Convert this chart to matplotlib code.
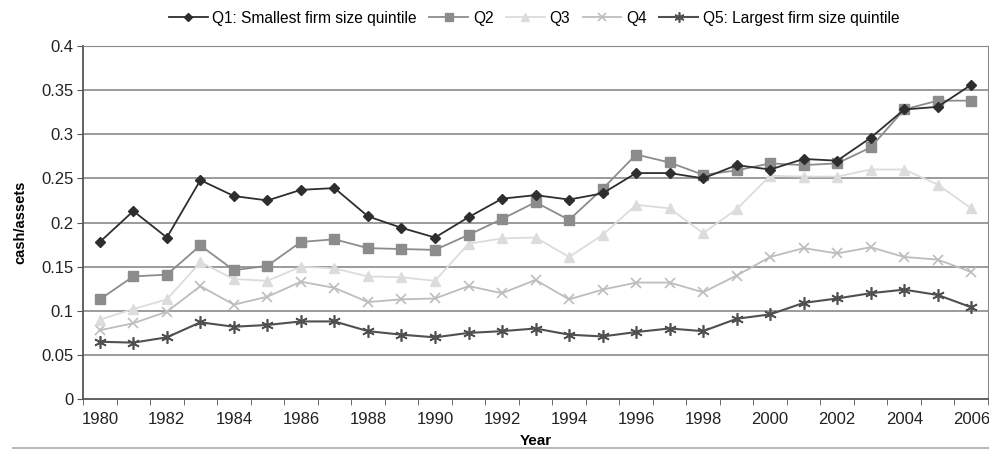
import matplotlib.pyplot as plt
import matplotlib.lines as mlines
import numpy as np

plt.rcParams['font.family'] = ['Liberation Sans', 'DejaVu Sans']

# Data (cash/assets by firm size quintile)
years = list(range(1980, 2007))
q1 = [0.178, 0.213, 0.183, 0.248, 0.230, 0.225, 0.237, 0.239, 0.207, 0.194, 0.183, 0.206, 0.227, 0.231,
      0.226, 0.233, 0.256, 0.256, 0.250, 0.265, 0.260, 0.272, 0.270, 0.296, 0.328, 0.331, 0.356]
q2 = [0.113, 0.139, 0.141, 0.174, 0.146, 0.151, 0.178, 0.181, 0.171, 0.170, 0.169, 0.186, 0.204, 0.223,
      0.203, 0.238, 0.277, 0.268, 0.254, 0.259, 0.267, 0.265, 0.267, 0.285, 0.328, 0.338, 0.338]
q3 = [0.090, 0.102, 0.113, 0.155, 0.136, 0.134, 0.150, 0.148, 0.139, 0.138, 0.134, 0.176, 0.182, 0.183,
      0.161, 0.186, 0.220, 0.216, 0.188, 0.215, 0.253, 0.252, 0.252, 0.260, 0.260, 0.243, 0.216]
q4 = [0.078, 0.086, 0.099, 0.128, 0.107, 0.116, 0.133, 0.126, 0.110, 0.113, 0.114, 0.128, 0.120, 0.135,
      0.113, 0.124, 0.132, 0.132, 0.121, 0.140, 0.161, 0.171, 0.165, 0.172, 0.161, 0.158, 0.144]
q5 = [0.065, 0.064, 0.070, 0.087, 0.082, 0.084, 0.088, 0.088, 0.077, 0.073, 0.070, 0.075, 0.077, 0.080,
      0.073, 0.071, 0.076, 0.080, 0.077, 0.091, 0.096, 0.109, 0.114, 0.120, 0.124, 0.118, 0.104]
labels = ['Q1: Smallest firm size quintile', 'Q2', 'Q3', 'Q4', 'Q5: Largest firm size quintile']

x = np.arange(len(years))

fig = plt.figure(figsize=(9.89, 4.5), dpi=100)
ax = fig.add_axes([0.084, 0.113, 0.915, 0.785])

# gridlines
for yv in np.arange(0.05, 0.41, 0.05):
    ax.axhline(yv, color='#8a8a8a', lw=1.2, zorder=0)

ax.plot(x, q5, color='#505050', marker=(6, 2, 0), ms=9, mew=1.2, lw=1.5, label=labels[4], zorder=3)
ax.plot(x, q4, color='#bdbdbd', marker='x', ms=7, mew=1.2, lw=1.3, label=labels[3], zorder=3)
ax.plot(x, q3, color='#dcdcdc', marker='^', ms=7, lw=1.3, label=labels[2], zorder=3)
ax.plot(x, q2, color='#8c8c8c', marker='s', ms=7, lw=1.3, label=labels[1], zorder=4)
ax.plot(x, q1, color='#2e2e2e', marker='D', ms=5, lw=1.3, label=labels[0], zorder=5)

ax.set_xlim(-0.5, len(years) - 0.5)
ax.set_ylim(0, 0.4)
ax.set_yticks(np.arange(0, 0.41, 0.05))
ax.set_yticklabels(['0', '0.05', '0.1', '0.15', '0.2', '0.25', '0.3', '0.35', '0.4'])

ax.set_xticks(x[::2])
ax.set_xticklabels([str(y) for y in years[::2]])
ax.set_xticks(np.arange(-0.5, len(years), 1.0), minor=True)
ax.tick_params(axis='x', which='major', length=0, pad=9, labelsize=12, colors='#222222')
ax.tick_params(axis='x', which='minor', length=4, color='#555555', direction='out')
ax.tick_params(axis='y', length=4, color='#555555', labelsize=12, colors='#222222', pad=3)

for s in ['left', 'bottom']:
    ax.spines[s].set_color('#555555')
    ax.spines[s].set_linewidth(1.3)
ax.spines['top'].set_color('#8a8a8a')
ax.spines['right'].set_color('#8a8a8a')

ax.set_ylabel('cash/assets', fontweight='bold', fontsize=10.5, labelpad=10)
ax.set_xlabel('Year', fontweight='bold', fontsize=11, labelpad=5)

handles, lbls = ax.get_legend_handles_labels()
order = [4, 3, 2, 1, 0]
fig.legend([handles[i] for i in order], [lbls[i] for i in order], loc='center',
           bbox_to_anchor=(0.540, 0.96), ncol=5, frameon=False, fontsize=11.2,
           handlelength=2.5, columnspacing=0.8, handletextpad=0.3, markerscale=0.8)

# separator rule beneath the chart
fig.add_artist(mlines.Line2D([0.013, 1.0], [0.004, 0.004], color='#aaaaaa', lw=1.2))

fig.savefig('out.png', dpi=100)
